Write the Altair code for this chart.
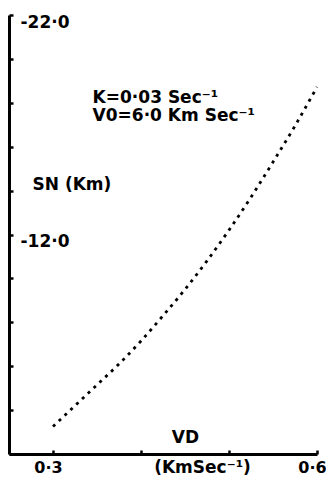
import altair as alt
import pandas as pd

# Curve
vd = [0.300, 0.325, 0.350, 0.375, 0.400, 0.425, 0.450, 0.475, 0.500, 0.525, 0.550, 0.575, 0.600]
sn = [-3.25, -4.2, -5.15, -6.1, -7.15, -8.3, -9.5, -10.8, -12.2, -13.7, -15.3, -16.95, -18.72]

x_tick_values = [0.3, 0.4, 0.5, 0.6]
x_tick_labels = ["0·3", "", "", "0·6"]
y_tick_values = [-22, -20, -18, -16, -14, -12, -10, -8, -6, -4, -2]
y_tick_labels = ["-22·0", "", "", "", "", "-12·0", "", "", "", "", ""]

note_x = [0.345]
note_y = [-18.0]
note_text = ["K=0·03 Sec⁻¹\nV0=6·0 Km Sec⁻¹"]

FONT = "DejaVu Sans"
FS = 17


def label_expr(vals, labs):
    parts = [f"datum.value == {v} ? '{l}'" for v, l in zip(vals, labs)]
    return " : ".join(parts) + " : ''"


W, H = 308, 439

curve = pd.DataFrame({"vd": vd, "sn": sn})
notes = pd.DataFrame({"x": note_x, "y": note_y, "t": note_text})

x_scale = alt.Scale(domain=[0.25, 0.6], nice=False, zero=False)
y_scale = alt.Scale(domain=[-22, -2], nice=False, zero=False, reverse=True)

line = alt.Chart(curve).mark_line(
    color="black", strokeWidth=2.8, strokeDash=[3, 5], interpolate="monotone"
).encode(
    x=alt.X("vd:Q", scale=x_scale, axis=alt.Axis(
        orient="bottom", values=x_tick_values, ticks=False, tickSize=0,
        labelExpr=label_expr(x_tick_values, x_tick_labels),
        labelFont=FONT, labelFontSize=16, labelFontWeight="bold", labelColor="black",
        labelPadding=5, labelFlush=False, labelOverlap=False, labelOffset=-5,
        domain=True, domainColor="black", domainWidth=3, grid=False,
        title="(KmSec⁻¹)", titleFont=FONT, titleFontSize=FS, titleFontWeight="bold",
        titleColor="black", titleX=193, titleY=13, titleAlign="center",
        titleBaseline="middle")),
    y=alt.Y("sn:Q", scale=y_scale, axis=alt.Axis(
        orient="left", values=y_tick_values,
        ticks=False, tickSize=0,
        labelExpr=label_expr(y_tick_values, y_tick_labels),
        labelFont=FONT, labelFontSize=FS, labelFontWeight="bold", labelColor="black",
        labelPadding=-11, labelAlign="left", labelBaseline="top", labelFlush=False,
        labelOverlap=False, labelOffset=-1,
        domain=True, domainColor="black", domainWidth=3, grid=False,
        title="SN (Km)", titleFont=FONT, titleFontSize=FS, titleFontWeight="bold",
        titleColor="black", titleAngle=0, titleX=23, titleY=169, titleAlign="left",
        titleBaseline="middle")),
)

note = alt.Chart(notes).mark_text(
    font=FONT, fontSize=FS, fontWeight="bold", color="black", align="left",
    baseline="alphabetic", lineBreak="\n", lineHeight=18
).encode(
    x=alt.X("x:Q", scale=x_scale, axis=alt.Axis(
        orient="top", offset=-H, values=x_tick_values,
        ticks=True, tickSize=4, tickWidth=2.5, tickColor="black",
        labels=False, domain=False, grid=False,
        title="VD", titleFont=FONT, titleFontSize=FS, titleFontWeight="bold",
        titleColor="black", titleX=176, titleY=-17, titleAlign="center",
        titleBaseline="middle")),
    y=alt.Y("y:Q", scale=y_scale, axis=alt.Axis(
        orient="right", offset=-W, values=y_tick_values,
        ticks=True, tickSize=4, tickWidth=2.5, tickColor="black",
        labels=False, domain=False, grid=False, title=None)),
    text="t:N",
)

chart = alt.layer(line, note).properties(
    width=W, height=H,
    autosize=alt.AutoSizeParams(type="none"),
    padding={"left": 1, "top": 7, "right": 9, "bottom": 22},
    background="white",
).configure_view(stroke=None)

chart.save("out.html", embed_options={"renderer": "svg", "actions": False})
